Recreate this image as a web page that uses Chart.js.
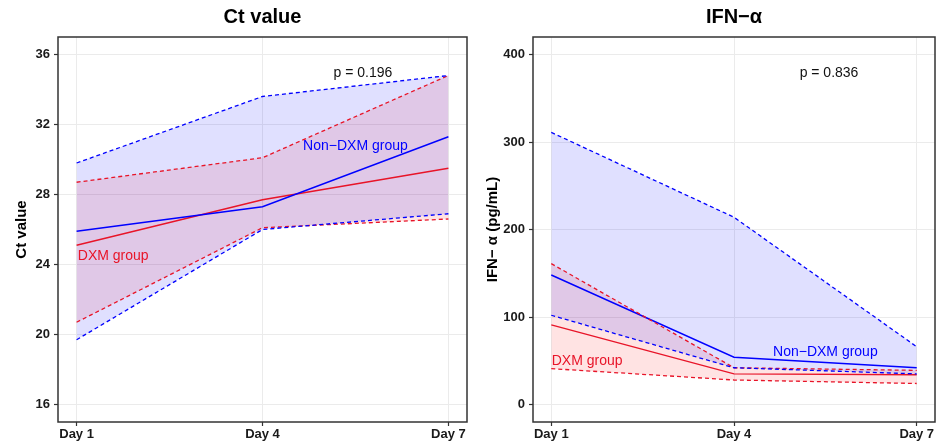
<!DOCTYPE html>
<html>
<head>
<meta charset="utf-8">
<script src="https://cdn.jsdelivr.net/npm/chart.js@4.4.1/dist/chart.umd.min.js"></script>
<style>
  html, body { margin: 0; padding: 0; background: #fff; }
  #wrap { position: relative; width: 936px; height: 444px; }
  canvas { position: absolute; top: 0; }
</style>
</head>
<body>
<div id="wrap">
  <canvas id="c1" width="470" height="444" style="left:0"></canvas>
  <canvas id="c2" width="466" height="444" style="left:470px"></canvas>
</div>
<script>
// ---------- data ----------
const categories = ['Day 1', 'Day 4', 'Day 7'];
const dayNumbers = [1, 4, 7];

// Ct value panel
const ctTicks = [16, 20, 24, 28, 32, 36];
const ctNonUpper = [29.8, 33.6, 34.8];
const ctNonLower = [19.7, 26.0, 26.9];
const ctNonMean  = [25.9, 27.3, 31.3];
const ctDxmUpper = [28.7, 30.1, 34.8];
const ctDxmLower = [20.7, 26.1, 26.6];
const ctDxmMean  = [25.1, 27.7, 29.5];

// IFN-alpha panel
const ifnTicks = [0, 100, 200, 300, 400];
const ifnNonUpper = [311, 214, 66];
const ifnNonLower = [102, 42, 35];
const ifnNonMean  = [148, 54, 42];
const ifnDxmUpper = [161, 42, 39];
const ifnDxmLower = [41, 28, 24];
const ifnDxmMean  = [91, 35, 34];

// ---------- styles ----------
const FONT = '"Liberation Sans", Arial, Helvetica, sans-serif';
const BLUE = 'rgb(0,0,255)';
const RED = 'rgb(232,20,40)';
const BLUE_FILL = 'rgba(0,0,255,0.12)';
const RED_FILL = 'rgba(255,0,0,0.11)';

function pts(vals) { return vals.map((v, i) => ({ x: dayNumbers[i], y: v })); }

function makeDatasets(nonU, nonL, nonM, dxU, dxL, dxM) {
  const dash = [4, 3];
  return [
    { data: pts(nonU), borderColor: BLUE, borderDash: dash, borderWidth: 1.3, fill: '+1', backgroundColor: BLUE_FILL },
    { data: pts(nonL), borderColor: BLUE, borderDash: dash, borderWidth: 1.3, fill: false },
    { data: pts(dxU), borderColor: RED, borderDash: dash, borderWidth: 1.3, fill: '+1', backgroundColor: RED_FILL },
    { data: pts(dxL), borderColor: RED, borderDash: dash, borderWidth: 1.3, fill: false },
    { data: pts(nonM), borderColor: BLUE, borderWidth: 1.4, fill: false },
    { data: pts(dxM), borderColor: RED, borderWidth: 1.4, fill: false }
  ];
}

const panelText = {
  id: 'panelText',
  afterDraw(chart, args, o) {
    const { ctx, chartArea: a, scales: { x, y } } = chart;
    ctx.save();
    ctx.strokeStyle = '#333';
    ctx.lineWidth = 1.5;
    ctx.strokeRect(a.left, a.top, a.right - a.left, a.bottom - a.top);
    ctx.fillStyle = '#000';
    ctx.textAlign = 'center';
    ctx.textBaseline = 'middle';
    ctx.font = 'bold 20px ' + FONT;
    ctx.fillText(o.title, (a.left + a.right) / 2, 17);
    ctx.save();
    ctx.translate(o.yTitleX, (a.top + a.bottom) / 2);
    ctx.rotate(-Math.PI / 2);
    ctx.font = 'bold 15px ' + FONT;
    ctx.fillText(o.yTitle, 0, 0);
    ctx.restore();
    ctx.font = '14px ' + FONT;
    o.notes.forEach(n => {
      ctx.fillStyle = n.color;
      ctx.textAlign = n.align;
      ctx.fillText(n.text, x.getPixelForValue(n.x), y.getPixelForValue(n.y));
    });
    ctx.restore();
  }
};

function makeChart(id, datasets, yMin, yMax, yTicks, yWidth, padRight, title, yTitle, yTitleX, notes) {
  return new Chart(document.getElementById(id), {
    type: 'line',
    data: { datasets },
    plugins: [panelText],
    options: {
      responsive: false,
      animation: false,
      devicePixelRatio: 1,
      layout: { padding: { top: 37, right: padRight, left: 0, bottom: 0 } },
      elements: { point: { radius: 0, hoverRadius: 0 }, line: { tension: 0 } },
      plugins: {
        legend: { display: false },
        tooltip: { enabled: false },
        title: { display: false },
        filler: { drawTime: 'beforeDatasetsDraw' },
        panelText: { title, yTitle, yTitleX, notes }
      },
      scales: {
        x: {
          type: 'linear', min: 0.7, max: 7.3,
          afterBuildTicks: s => { s.ticks = dayNumbers.map(v => ({ value: v })); },
          afterFit: s => { s.height = 22; },
          grid: { color: '#ebebeb', lineWidth: 1, tickColor: '#333', tickLength: 4, tickWidth: 1.2 },
          border: { display: false },
          ticks: {
            autoSkip: false, maxRotation: 0, padding: 1, color: '#1a1a1a',
            font: { family: FONT, size: 13, weight: 'bold' },
            callback: v => categories[dayNumbers.indexOf(v)]
          }
        },
        y: {
          min: yMin, max: yMax,
          afterBuildTicks: s => { s.ticks = yTicks.map(v => ({ value: v })); },
          afterFit: s => { s.width = yWidth; },
          grid: { color: '#ebebeb', lineWidth: 1, tickColor: '#333', tickLength: 4, tickWidth: 1.2 },
          border: { display: false },
          ticks: { padding: 4, color: '#1a1a1a', font: { family: FONT, size: 13, weight: 'bold' } }
        }
      }
    }
  });
}

makeChart('c1',
  makeDatasets(ctNonUpper, ctNonLower, ctNonMean, ctDxmUpper, ctDxmLower, ctDxmMean),
  15, 37, ctTicks, 58, 3, 'Ct value', 'Ct value', 22,
  [
    { text: 'p = 0.196', x: 5.62, y: 34.93, color: '#111', align: 'center' },
    { text: 'Non\u2212DXM group', x: 5.50, y: 30.76, color: BLUE, align: 'center' },
    { text: 'DXM group', x: 1.02, y: 24.47, color: RED, align: 'left' }
  ]);

makeChart('c2',
  makeDatasets(ifnNonUpper, ifnNonLower, ifnNonMean, ifnDxmUpper, ifnDxmLower, ifnDxmMean),
  -20, 420, ifnTicks, 63, 1, 'IFN\u2212\u03b1', 'IFN\u2212 \u03b1 (pg/mL)', 23,
  [
    { text: 'p = 0.836', x: 5.56, y: 378.6, color: '#111', align: 'center' },
    { text: 'Non\u2212DXM group', x: 5.50, y: 60.1, color: BLUE, align: 'center' },
    { text: 'DXM group', x: 1.007, y: 49.5, color: RED, align: 'left' }
  ]);
</script>
</body>
</html>
